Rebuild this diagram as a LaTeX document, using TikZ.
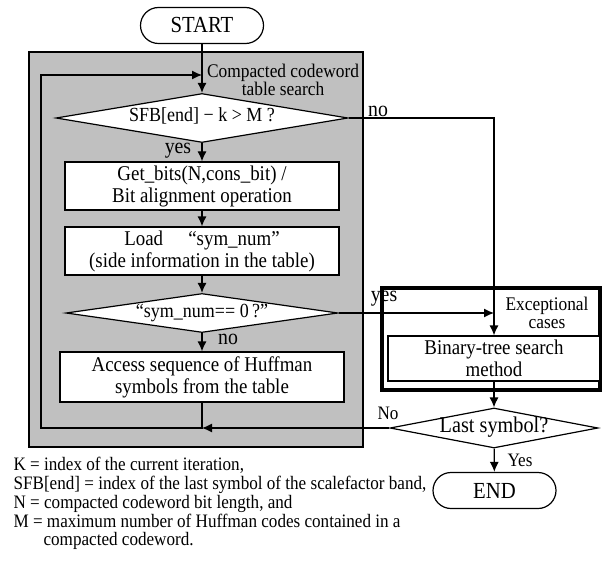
\documentclass[tikz,border=0pt]{standalone}
\usepackage{fontspec}
\setmainfont{Liberation Serif}[FakeStretch=0.9]
\usetikzlibrary{arrows.meta,positioning,shapes.geometric}
\definecolor{panelgray}{RGB}{192,192,192}

\begin{document}
\begin{tikzpicture}[
    x=1pt, y=-1pt,
    >={Latex[length=10pt,width=9pt]},
    line width=1.2pt,
    terminal/.style={draw,rectangle,rounded corners=18pt,minimum width=123pt,minimum height=36pt,inner sep=0pt,font=\fontsize{23}{25}\selectfont},
    process box/.style={draw,fill=white,rectangle,inner sep=0pt,align=center,font=\fontsize{21}{22}\selectfont},
    decision/.style={draw,fill=white,diamond,inner sep=0pt,text height=10pt,text depth=2pt,font=\fontsize{20}{22}\selectfont},
    flow label/.style={inner sep=0pt,font=\fontsize{22}{22}\selectfont},
    small label/.style={inner sep=0pt,font=\fontsize{19}{20}\selectfont},
    group label/.style={inner sep=0pt,align=center,font=\fontsize{19.3}{18}\selectfont}
  ]
    \useasboundingbox (0,0) rectangle (604,564);

    % Compacted codeword table search (gray panel)
    \node[draw,fill=panelgray,minimum width=334pt,minimum height=395pt,inner sep=0pt] (panel) at (196,249.5) {};
    \node[group label] (panellabel) at (283,80) {Compacted codeword\\table search};

    \node[terminal] (start) at (202,25.5) {START};
    \node[decision,aspect=6,minimum width=292pt,minimum height=49pt] (sfbtest) at (202,118) {SFB[end] − k > M ?};
    \node[process box,minimum width=274pt,minimum height=48pt] (getbits) at (202,186) {Get\_bits(N,cons\_bit) /\\Bit alignment operation};
    \node[process box,minimum width=274pt,minimum height=48pt] (loadsym) at (202,251) {Load\hspace{1.2em}“sym\_num”\\(side information in the table)};
    \node[decision,aspect=7,minimum width=272pt,minimum height=39pt] (symtest) at (202,313) {“sym\_num== 0\,?”};
    \node[process box,minimum width=284pt,minimum height=50pt] (access) at (202,377) {Access sequence of Huffman\\symbols from the table};

    \coordinate (join) at (202,428);
    \coordinate (loopcorner) at (41,428);
    \coordinate (looptop) at (202,75);

    % Exceptional cases
    \node[draw,line width=3.2pt,minimum width=218pt,minimum height=102pt,inner sep=0pt] (exceptional) at (491,339) {};
    \node[group label] (exclabel) at (547,313) {Exceptional\\cases};
    \node[process box,minimum width=212pt,minimum height=45pt] (binsearch) at (494,358.5) {Binary-tree search\\method};
    \coordinate (merge) at (494,313);

    \node[decision,aspect=5,minimum width=208pt,minimum height=40pt,font=\fontsize{22.5}{24}\selectfont] (lastsym) at (494,428) {Last symbol?};
    \node[terminal] (end) at (494.5,490.5) {END};

    \draw[->] (start) -- (sfbtest);
    \draw[->] (sfbtest) -- (getbits);
    \draw[->] (getbits) -- (loadsym);
    \draw[->] (loadsym) -- (symtest);
    \draw[->] (symtest) -- (access);
    \draw[->] (access.south) -- (join) -- (loopcorner) |- (looptop);
    \draw[->] (sfbtest.east) -| (binsearch.north);
    \draw[->] (symtest.east) -- (merge);
    \draw[->] (binsearch) -- (lastsym);
    \draw[->] (lastsym) -- (end);
    \draw[->] (lastsym.west) -- (join);

    \node[flow label] (nosfb) at (378,111) {no};
    \node[flow label] (yessfb) at (178,151) {yes};
    \node[flow label] (nosym) at (228,339) {no};
    \node[flow label] (yessym) at (384,299) {yes};
    \node[small label] (nolast) at (388,413) {No};
    \node[small label] (yeslast) at (520,460) {Yes};

    % symbol legend
    \node[anchor=north west,inner sep=0pt,align=left,font=\fontsize{19}{18.7}\selectfont] (legend) at (13,457) {K = index of the current iteration,\\SFB[end] = index of the last symbol of the scalefactor band,\\N = compacted codeword bit length, and\\M = maximum number of Huffman codes contained in a\\\hspace*{30pt}compacted codeword.};
\end{tikzpicture}
\end{document}
